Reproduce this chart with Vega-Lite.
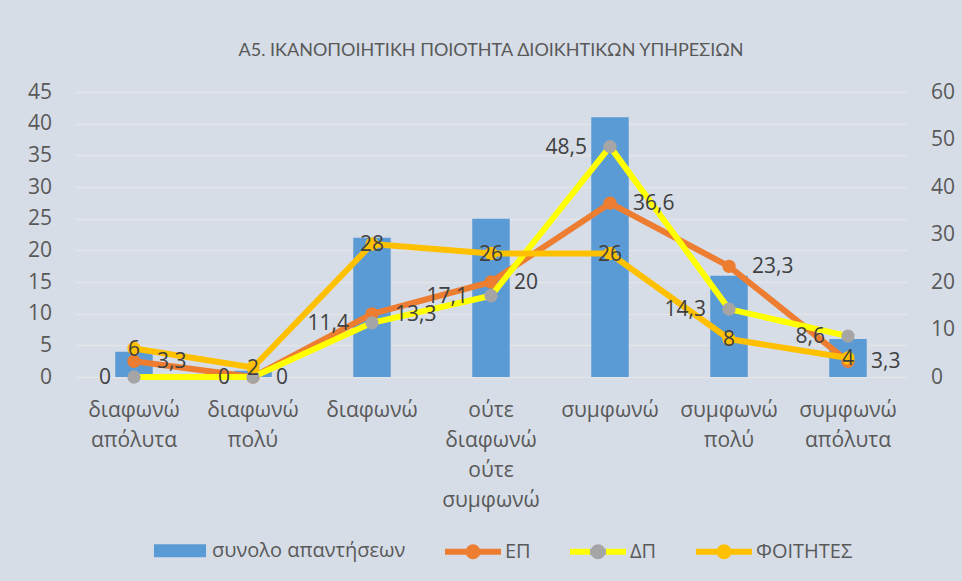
{
  "$schema": "https://vega.github.io/schema/vega-lite/v6.json",
  "autosize": {"type": "none"},
  "width": 833,
  "height": 285,
  "padding": {"left": 74.5, "top": 92, "right": 54.5, "bottom": 204},
  "background": "#d6dde7",
  "title": {
    "text": "Α5. ΙΚΑΝΟΠΟΙΗΤΙΚΗ ΠΟΙΟΤΗΤΑ ΔΙΟΙΚΗΤΙΚΩΝ ΥΠΗΡΕΣΙΩΝ",
    "font": "Lato",
    "fontSize": 18,
    "fontWeight": "normal",
    "color": "#595959",
    "anchor": "middle",
    "offset": 21
  },
  "datasets": {
    "bars": [
      {"cat": "διαφωνώ απόλυτα", "series": "συνολο απαντήσεων", "value": 4},
      {"cat": "διαφωνώ πολύ", "series": "συνολο απαντήσεων", "value": 1},
      {"cat": "διαφωνώ", "series": "συνολο απαντήσεων", "value": 22},
      {"cat": "ούτε διαφωνώ ούτε συμφωνώ", "series": "συνολο απαντήσεων", "value": 25},
      {"cat": "συμφωνώ", "series": "συνολο απαντήσεων", "value": 41},
      {"cat": "συμφωνώ πολύ", "series": "συνολο απαντήσεων", "value": 16},
      {"cat": "συμφωνώ απόλυτα", "series": "συνολο απαντήσεων", "value": 6}
    ],
    "lines": [
      {"cat": "διαφωνώ απόλυτα", "series": "ΕΠ", "value": 3.3},
      {"cat": "διαφωνώ πολύ", "series": "ΕΠ", "value": 0},
      {"cat": "διαφωνώ", "series": "ΕΠ", "value": 13.3},
      {"cat": "ούτε διαφωνώ ούτε συμφωνώ", "series": "ΕΠ", "value": 20},
      {"cat": "συμφωνώ", "series": "ΕΠ", "value": 36.6},
      {"cat": "συμφωνώ πολύ", "series": "ΕΠ", "value": 23.3},
      {"cat": "συμφωνώ απόλυτα", "series": "ΕΠ", "value": 3.3},
      {"cat": "διαφωνώ απόλυτα", "series": "ΔΠ", "value": 0},
      {"cat": "διαφωνώ πολύ", "series": "ΔΠ", "value": 0},
      {"cat": "διαφωνώ", "series": "ΔΠ", "value": 11.4},
      {"cat": "ούτε διαφωνώ ούτε συμφωνώ", "series": "ΔΠ", "value": 17.1},
      {"cat": "συμφωνώ", "series": "ΔΠ", "value": 48.5},
      {"cat": "συμφωνώ πολύ", "series": "ΔΠ", "value": 14.3},
      {"cat": "συμφωνώ απόλυτα", "series": "ΔΠ", "value": 8.6},
      {"cat": "διαφωνώ απόλυτα", "series": "ΦΟΙΤΗΤΕΣ", "value": 6},
      {"cat": "διαφωνώ πολύ", "series": "ΦΟΙΤΗΤΕΣ", "value": 2},
      {"cat": "διαφωνώ", "series": "ΦΟΙΤΗΤΕΣ", "value": 28},
      {"cat": "ούτε διαφωνώ ούτε συμφωνώ", "series": "ΦΟΙΤΗΤΕΣ", "value": 26},
      {"cat": "συμφωνώ", "series": "ΦΟΙΤΗΤΕΣ", "value": 26},
      {"cat": "συμφωνώ πολύ", "series": "ΦΟΙΤΗΤΕΣ", "value": 8},
      {"cat": "συμφωνώ απόλυτα", "series": "ΦΟΙΤΗΤΕΣ", "value": 4}
    ]
  },
  "encoding": {
    "x": {
      "field": "cat",
      "type": "nominal",
      "scale": {
        "domain": ["διαφωνώ απόλυτα", "διαφωνώ πολύ", "διαφωνώ", "ούτε διαφωνώ ούτε συμφωνώ", "συμφωνώ", "συμφωνώ πολύ", "συμφωνώ απόλυτα"],
        "paddingInner": 0,
        "paddingOuter": 0
      },
      "axis": {
        "title": null,
        "labelExpr": "split(datum.label, ' ')",
        "labelAngle": 0,
        "labelFont": "Open Sans",
        "labelFontSize": 21,
        "labelColor": "#595959",
        "labelLineHeight": 30,
        "labelPadding": 22,
        "labelLimit": 0,
        "domain": false,
        "ticks": false,
        "grid": false
      }
    }
  },
  "layer": [
    {
      "data": {"name": "bars"},
      "mark": {"type": "bar", "width": {"band": 0.315}, "color": "#5B9BD5"},
      "encoding": {
        "y": {
          "field": "value",
          "type": "quantitative",
          "scale": {"domain": [0, 45], "nice": false},
          "axis": {
            "title": null,
            "orient": "left",
            "values": [0, 5, 10, 15, 20, 25, 30, 35, 40, 45],
            "labelFont": "Open Sans",
            "labelFontSize": 21,
            "labelColor": "#595959",
            "labelPadding": 23,
            "domain": false,
            "ticks": false,
            "grid": true,
            "gridColor": "#e2e4e8",
            "gridWidth": 1.4
          }
        },
        "color": {
          "field": "series",
          "type": "nominal",
          "scale": {
            "domain": ["συνολο απαντήσεων", "ΕΠ", "ΔΠ", "ΦΟΙΤΗΤΕΣ"],
            "range": ["#5B9BD5", "#ED7D31", "#FFFF00", "#FFC000"]
          },
          "legend": {
            "orient": "none",
            "legendX": 74.5,
            "legendY": 427.5,
            "direction": "horizontal",
            "title": null,
            "padding": 0,
            "symbolSize": 3136,
            "symbolStrokeWidth": 6,
            "labelFont": "Open Sans",
            "labelFontSize": 20,
            "labelColor": "#595959",
            "labelOffset": 1,
            "labelLimit": 400,
            "columnPadding": 27,
            "encode": {
              "symbols": {
                "update": {
                  "shape": {"signal": "datum.value === 'συνολο απαντήσεων' ? 'M-0.93,-0.23H0.93V0.23H-0.93Z' : 'M-1,0H1M0.16,0A0.16,0.16,0,1,1,-0.16,0A0.16,0.16,0,1,1,0.16,0Z'"},
                  "fill": [
                    {"test": "datum.value === 'ΔΠ'", "value": "#A5A5A5"},
                    {"signal": "scale('color', datum.value)"}
                  ],
                  "stroke": [
                    {"test": "datum.value === 'συνολο απαντήσεων'", "value": "transparent"},
                    {"test": "datum.value === 'ΔΠ'", "value": {"gradient": "linear", "x1": 0, "y1": 0, "x2": 1, "y2": 0, "stops": [{"offset": 0, "color": "#FFFF00"}, {"offset": 0.366, "color": "#FFFF00"}, {"offset": 0.366, "color": "#A5A5A5"}, {"offset": 0.634, "color": "#A5A5A5"}, {"offset": 0.634, "color": "#FFFF00"}, {"offset": 1, "color": "#FFFF00"}]}},
                    {"signal": "scale('color', datum.value)"}
                  ],
                  "strokeWidth": {"value": 6},
                  "opacity": {"value": 1}
                }
              }
            }
          }
        }
      }
    },
    {
      "data": {"name": "lines"},
      "encoding": {
        "y": {
          "field": "value",
          "type": "quantitative",
          "scale": {"domain": [0, 60], "nice": false},
          "axis": {
            "title": null,
            "orient": "right",
            "values": [0, 10, 20, 30, 40, 50, 60],
            "labelFont": "Open Sans",
            "labelFontSize": 21,
            "labelColor": "#595959",
            "labelPadding": 23,
            "domain": false,
            "ticks": false,
            "grid": false
          }
        }
      },
      "layer": [
        {
          "transform": [{"filter": "datum.series === 'ΕΠ'"}],
          "mark": {"type": "line", "color": "#ED7D31", "strokeWidth": 6, "strokeJoin": "round", "strokeCap": "round"}
        },
        {
          "transform": [{"filter": "datum.series === 'ΕΠ'"}],
          "mark": {"type": "point", "filled": true, "size": 177, "opacity": 1, "strokeWidth": 0, "color": "#ED7D31"}
        },
        {
          "transform": [{"filter": "datum.series === 'ΔΠ'"}],
          "mark": {"type": "line", "color": "#FFFF00", "strokeWidth": 6, "strokeJoin": "round", "strokeCap": "round"}
        },
        {
          "transform": [{"filter": "datum.series === 'ΔΠ'"}],
          "mark": {"type": "point", "filled": true, "size": 177, "opacity": 1, "strokeWidth": 0, "color": "#A5A5A5"}
        },
        {
          "transform": [{"filter": "datum.series === 'ΦΟΙΤΗΤΕΣ'"}],
          "mark": {"type": "line", "color": "#FFC000", "strokeWidth": 6, "strokeJoin": "round", "strokeCap": "round"}
        },
        {
          "transform": [{"filter": "datum.series === 'ΦΟΙΤΗΤΕΣ'"}],
          "mark": {"type": "point", "filled": true, "size": 177, "opacity": 1, "strokeWidth": 0, "color": "#FFC000"}
        },
        {
          "transform": [{"filter": "datum.series === 'ΕΠ'"}],
          "mark": {"type": "text", "font": "Open Sans", "fontSize": 21, "color": "#404040", "align": "left", "baseline": "middle", "dx": 23, "dy": 1},
          "encoding": {"text": {"field": "value", "type": "quantitative", "format": ".1~f"}}
        },
        {
          "transform": [{"filter": "datum.series === 'ΔΠ'"}],
          "mark": {"type": "text", "font": "Open Sans", "fontSize": 21, "color": "#404040", "align": "right", "baseline": "middle", "dx": -23, "dy": 1},
          "encoding": {"text": {"field": "value", "type": "quantitative", "format": ".1~f"}}
        },
        {
          "transform": [{"filter": "datum.series === 'ΦΟΙΤΗΤΕΣ'"}],
          "mark": {"type": "text", "font": "Open Sans", "fontSize": 21, "color": "#404040", "align": "center", "baseline": "middle", "dy": 1},
          "encoding": {"text": {"field": "value", "type": "quantitative", "format": ".1~f"}}
        }
      ]
    }
  ],
  "resolve": {"scale": {"y": "independent"}},
  "config": {
    "view": {"stroke": null},
    "locale": {"number": {"decimal": ",", "thousands": ".", "grouping": [3], "currency": ["", " €"]}}
  }
}
